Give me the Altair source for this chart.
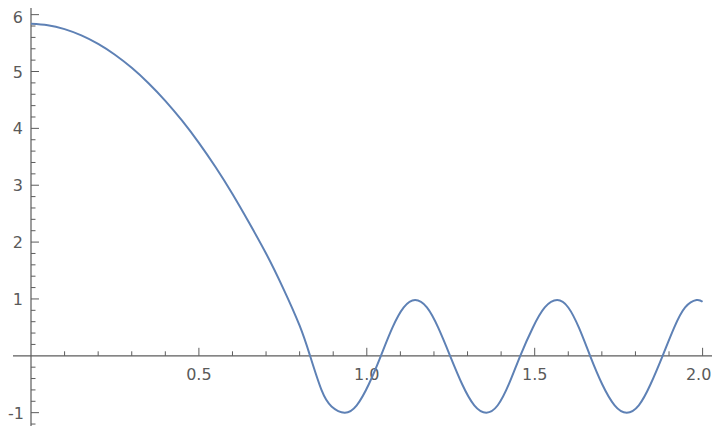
import altair as alt
import pandas as pd

# ---- data ----
curve_x = [0.0, 0.05, 0.10, 0.15, 0.20, 0.25, 0.30, 0.35, 0.40, 0.45, 0.50, 0.55,
           0.60, 0.65, 0.70, 0.75, 0.80, 0.831, 0.865, 0.895, 0.934, 0.970, 1.006,
           1.042, 1.076, 1.110, 1.144, 1.179, 1.213, 1.248, 1.284, 1.320, 1.356,
           1.390, 1.423, 1.457, 1.494, 1.530, 1.567, 1.600, 1.632, 1.665, 1.701,
           1.738, 1.774, 1.810, 1.845, 1.881, 1.915, 1.948, 1.982, 2.0]
curve_y = [5.84, 5.815, 5.745, 5.635, 5.485, 5.295, 5.065, 4.795, 4.485, 4.135, 3.745, 3.315,
           2.845, 2.335, 1.80, 1.20, 0.53, 0.0, -0.60, -0.89, -1.0, -0.87, -0.50,
           0.0, 0.49, 0.85, 0.98, 0.85, 0.49, 0.0, -0.50, -0.87, -1.0,
           -0.87, -0.50, 0.0, 0.49, 0.85, 0.98, 0.85, 0.49, 0.0, -0.50,
           -0.87, -1.0, -0.87, -0.50, 0.0, 0.49, 0.85, 0.98, 0.95]

x_minor_ticks = [0.1, 0.2, 0.3, 0.4, 0.6, 0.7, 0.8, 0.9, 1.1, 1.2, 1.3, 1.4,
                 1.6, 1.7, 1.8, 1.9]
x_major_ticks = [0.5, 1.0, 1.5]
x_tick_labels = ["0.5", "1.0", "1.5"]
x_last_tick = [2.0]
x_last_label = ["2.0"]

y_minor_ticks = [-1.2, -0.8, -0.6, -0.4, -0.2, 0.2, 0.4, 0.6, 0.8, 1.2, 1.4, 1.6,
                 1.8, 2.2, 2.4, 2.6, 2.8, 3.2, 3.4, 3.6, 3.8, 4.2, 4.4, 4.6, 4.8,
                 5.2, 5.4, 5.6, 5.8]
y_major_ticks = [1, 2, 3, 4, 5]
y_tick_labels = ["1", "2", "3", "4", "5"]
y_top_ticks = [6]
y_top_labels = ["6"]
y_neg_ticks = [-1]
y_neg_labels = ["-1"]

ORIGIN = 0  # axes cross at the origin

X_DOMAIN = [-0.0536, 2.028]
Y_DOMAIN = [-1.2346, 6.117]

AXIS_COLOR = "#5c5c5c"
LABEL_COLOR = "#5a5a5a"
LINE_COLOR = "#5E81B5"
FONT = "DejaVu Sans"
FS = 16

xs = alt.Scale(domain=X_DOMAIN, nice=False, zero=False)
ys = alt.Scale(domain=Y_DOMAIN, nice=False, zero=False)

df_curve = pd.DataFrame({"x": curve_x, "y": curve_y})
df_xminor = pd.DataFrame({"v": x_minor_ticks, "o": ORIGIN})
df_xmajor = pd.DataFrame({"v": x_major_ticks + x_last_tick, "o": ORIGIN})
df_xlab = pd.DataFrame({"v": x_major_ticks, "label": x_tick_labels, "o": ORIGIN})
df_xlast = pd.DataFrame({"v": x_last_tick, "label": x_last_label, "o": ORIGIN})
df_yminor = pd.DataFrame({"v": y_minor_ticks, "o": ORIGIN})
df_ymajor = pd.DataFrame({"v": y_major_ticks + y_top_ticks + y_neg_ticks, "o": ORIGIN})
df_ylab = pd.DataFrame({"v": y_major_ticks, "label": y_tick_labels, "o": ORIGIN})
df_ytop = pd.DataFrame({"v": y_top_ticks, "label": y_top_labels, "o": ORIGIN})
df_yneg = pd.DataFrame({"v": y_neg_ticks, "label": y_neg_labels, "o": ORIGIN})
df_zero = pd.DataFrame({"o": [ORIGIN]})

X = lambda f: alt.X(f, scale=xs, axis=None)
Y = lambda f: alt.Y(f, scale=ys, axis=None)

x_axis_line = alt.Chart(df_zero).mark_rule(color=AXIS_COLOR, strokeWidth=1.2).encode(
    y=Y("o:Q")
)
y_axis_line = alt.Chart(df_zero).mark_rule(color=AXIS_COLOR, strokeWidth=1.2).encode(
    x=X("o:Q")
)

x_minor = alt.Chart(df_xminor).mark_rule(color=AXIS_COLOR, strokeWidth=1, y2Offset=-4.5).encode(
    x=X("v:Q"), y=Y("o:Q"), y2="o:Q"
)
x_major = alt.Chart(df_xmajor).mark_rule(color=AXIS_COLOR, strokeWidth=1, y2Offset=-8).encode(
    x=X("v:Q"), y=Y("o:Q"), y2="o:Q"
)
x_labels = alt.Chart(df_xlab).mark_text(
    align="center", baseline="top", dy=11, fontSize=FS, font=FONT, color=LABEL_COLOR
).encode(x=X("v:Q"), y=Y("o:Q"), text="label:N")
x_last_lab = alt.Chart(df_xlast).mark_text(
    align="center", baseline="top", dx=-4, dy=11, fontSize=FS, font=FONT, color=LABEL_COLOR
).encode(x=X("v:Q"), y=Y("o:Q"), text="label:N")

y_minor = alt.Chart(df_yminor).mark_rule(color=AXIS_COLOR, strokeWidth=1, x2Offset=4.5).encode(
    y=Y("v:Q"), x=X("o:Q"), x2="o:Q"
)
y_major = alt.Chart(df_ymajor).mark_rule(color=AXIS_COLOR, strokeWidth=1, x2Offset=8).encode(
    y=Y("v:Q"), x=X("o:Q"), x2="o:Q"
)
y_labels = alt.Chart(df_ylab).mark_text(
    align="right", baseline="middle", dx=-8, dy=1, fontSize=FS, font=FONT, color=LABEL_COLOR
).encode(y=Y("v:Q"), x=X("o:Q"), text="label:N")
y_top_label = alt.Chart(df_ytop).mark_text(
    align="right", baseline="middle", dx=-8, dy=3.5, fontSize=FS, font=FONT, color=LABEL_COLOR
).encode(y=Y("v:Q"), x=X("o:Q"), text="label:N")
y_neg_label = alt.Chart(df_yneg).mark_text(
    align="right", baseline="middle", dx=-7, dy=1, fontSize=FS, font=FONT, color=LABEL_COLOR
).encode(y=Y("v:Q"), x=X("o:Q"), text="label:N")

curve = alt.Chart(df_curve).mark_line(
    color=LINE_COLOR, strokeWidth=2, interpolate="natural"
).encode(x=X("x:Q"), y=Y("y:Q"))

chart = alt.layer(
    x_axis_line, y_axis_line, x_minor, x_major, y_minor, y_major,
    x_labels, x_last_lab, y_labels, y_top_label, y_neg_label, curve
).properties(
    width=699,
    height=418,
    padding={"left": 5, "top": 0, "right": 0, "bottom": 0},
    autosize=alt.AutoSizeParams(type="none"),
    background="white",
).configure_view(stroke=None)

chart.save("out.html", embed_options={"renderer": "svg", "actions": False})
